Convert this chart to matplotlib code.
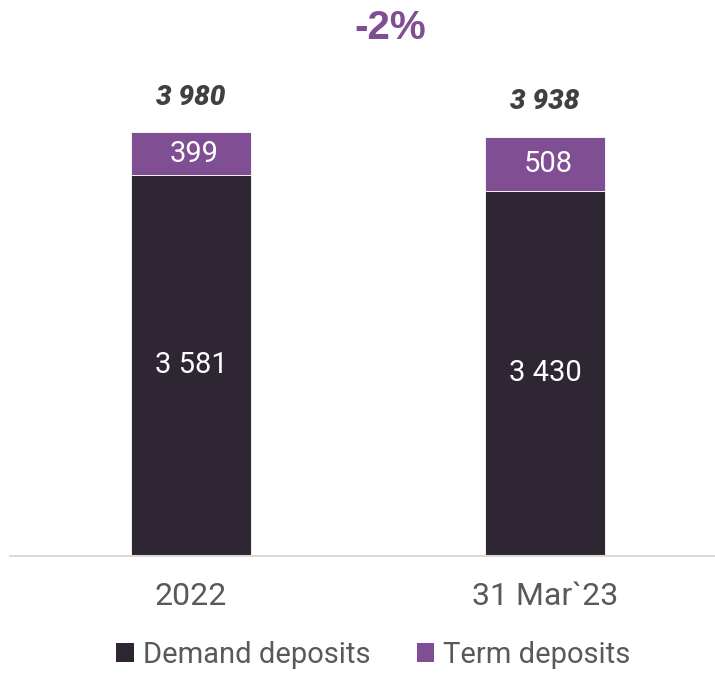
import matplotlib.pyplot as plt
from matplotlib.patches import Patch

plt.rcParams['font.family'] = ['Roboto', 'DejaVu Sans']

# Deposit structure
categories = ['2022', '31 Mar`23']
demand = [3581, 3430]
term = [399, 508]
change_label = '-2%'

dark = '#2e2632'
purple = '#7f4e93'

def fmt(v):
    return f'{v:,}'.replace(',', ' ')

fig = plt.figure(figsize=(7.15, 6.98), dpi=100)
ax = fig.add_axes([10 / 715, 142 / 698, 705 / 715, 479 / 698])

x = range(len(categories))
width = 0.339
ax.bar(x, demand, width, color=dark, edgecolor='white', linewidth=0.6)
ax.bar(x, term, width, bottom=demand, color=purple, edgecolor='white', linewidth=0.6)

for i in x:
    total = demand[i] + term[i]
    ax.text(i, demand[i] / 2, fmt(demand[i]), ha='center', va='center',
            color='white', fontsize=21)
    ax.text(i + 0.01, demand[i] + term[i] / 2, fmt(term[i]), ha='center', va='center',
            color='white', fontsize=21)
    ax.text(i, total + 330, fmt(total), ha='center', va='center',
            color='#404040', fontsize=20, fontweight='heavy', fontstyle='italic')

ax.set_xlim(-0.511, 1.48)
ax.set_ylim(0, 4500)
ax.set_xticks(list(x))
ax.set_xticklabels(categories, fontsize=23, color='#595959')
ax.tick_params(axis='x', length=0, pad=19)
ax.set_yticks([])
for side in ['left', 'right', 'top']:
    ax.spines[side].set_visible(False)
ax.spines['bottom'].set_color('#d9d9d9')
ax.spines['bottom'].set_linewidth(1.5)

fig.text(390 / 715, 1 - 28 / 698, change_label, ha='center', va='center',
         color=purple, fontsize=29, fontweight='bold', family='Liberation Sans')

handles = [Patch(facecolor=dark, label='Demand deposits'),
           Patch(facecolor=purple, label='Term deposits')]
leg = fig.legend(handles=handles, loc='center', bbox_to_anchor=(0.522, 1 - 655 / 698),
                 ncol=2, frameon=False, fontsize=21, handlelength=0.6,
                 handleheight=0.6, handletextpad=0.3, columnspacing=1.6)
for t in leg.get_texts():
    t.set_color('#595959')

fig.savefig('out.png', dpi=100)
